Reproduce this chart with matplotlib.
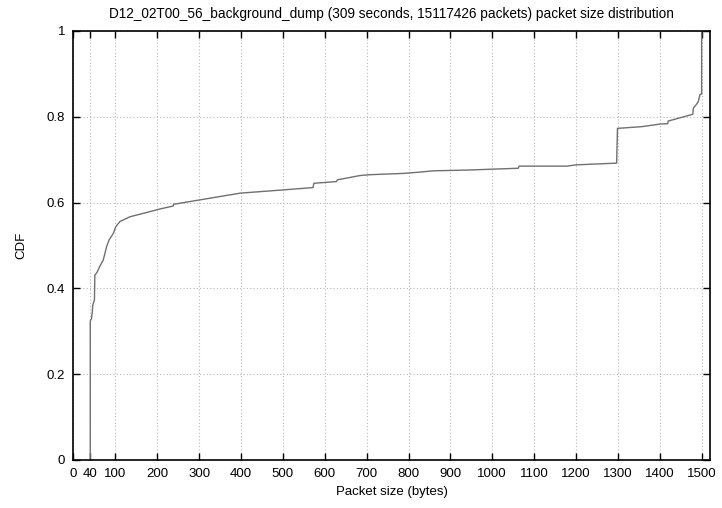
import matplotlib
matplotlib.use("Agg")
import matplotlib.pyplot as plt

# Packet size CDF read as (size, cumulative fraction) points; repeated sizes mark jumps
sizes = [40, 40, 43, 45, 46, 50, 51, 56, 63, 71, 79, 85, 95, 101, 111, 135, 175,
         206, 238, 239, 300, 398, 493, 572, 574, 628, 630, 684, 708, 787, 827, 858,
         947, 1002, 1062, 1064, 1178, 1201, 1297, 1299, 1357, 1400, 1419, 1420, 1472,
         1479, 1480, 1486, 1492, 1496, 1500, 1500]
cdf = [0.0, 0.324, 0.33, 0.346, 0.361, 0.373, 0.431, 0.437, 0.452, 0.466, 0.497,
       0.513, 0.528, 0.544, 0.556, 0.567, 0.577, 0.585, 0.592, 0.596, 0.606, 0.622,
       0.629, 0.635, 0.645, 0.649, 0.653, 0.663, 0.665, 0.668, 0.671, 0.674, 0.676,
       0.678, 0.680, 0.685, 0.685, 0.688, 0.692, 0.773, 0.777, 0.783, 0.784, 0.790,
       0.804, 0.806, 0.82, 0.827, 0.835, 0.852, 0.853, 1.0]

x_ticks = [0, 40, 100, 200, 300, 400, 500, 600, 700, 800, 900, 1000, 1100, 1200,
           1300, 1400, 1500]
y_ticks = [0, 0.2, 0.4, 0.6, 0.8, 1.0]
y_tick_labels = ["0", "0.2", "0.4", "0.6", "0.8", "1"]

title = "D12_02T00_56_background_dump (309 seconds, 15117426 packets) packet size distribution"

plt.rcParams["font.family"] = ["Liberation Sans", "DejaVu Sans"]

fig = plt.figure(figsize=(7.22, 5.08), dpi=100)
ax = fig.add_axes([0.1018, 0.0945, 0.9834 - 0.1018, 0.939 - 0.0945])

ax.plot(sizes, cdf, color="#707070", linewidth=1.0)

ax.set_xlim(0, 1520)
ax.set_ylim(0, 1)
ax.set_xticks(x_ticks)
ax.set_xticklabels([str(t) for t in x_ticks])
ax.set_yticks(y_ticks)
ax.set_yticklabels(y_tick_labels)

ax.grid(True, linestyle=(0, (1, 2)), color="#b8b8b8", linewidth=0.8)
ax.tick_params(direction="in", top=True, right=True, length=5, width=1,
               labelsize=9.5, pad=6, colors="black")

for spine in ax.spines.values():
    spine.set_linewidth(1.2)
    spine.set_color("black")

ax.set_xlabel("Packet size (bytes)", fontsize=9.5, labelpad=4)
ax.set_ylabel("CDF", fontsize=9.5, labelpad=14)
ax.set_title(title, fontsize=9.8, pad=9)

fig.savefig("out.png", dpi=100)
